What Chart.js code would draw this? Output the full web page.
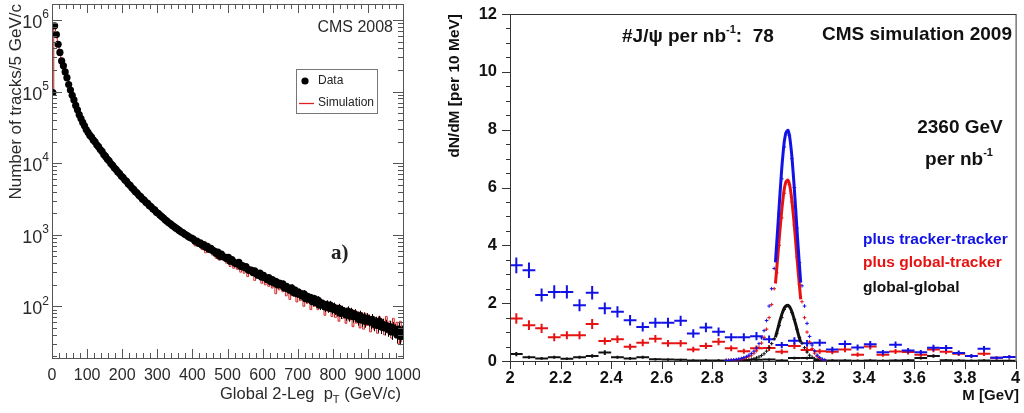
<!DOCTYPE html>
<html>
<head>
<meta charset="utf-8">
<script src="https://cdn.jsdelivr.net/npm/chart.js@4.4.0/dist/chart.umd.min.js"></script>
<style>
  body { margin: 0; background: #fff; width: 1024px; height: 413px; overflow: hidden; position: relative; }
  #leftChart { position: absolute; left: 0; top: 0; }
  #rightChart { position: absolute; left: 420px; top: 0; }
</style>
</head>
<body>
<canvas id="leftChart" width="420" height="413"></canvas>
<canvas id="rightChart" width="604" height="413"></canvas>
<script>
// ---------- left panel: global 2-leg pT, tracks per 5 GeV/c ----------
var ptBinWidth = 5;
var dataCounts = [
  97000, 830000, 625000, 458000, 352000, 268000, 229000, 188000, 156000, 125000,
  105000, 88500, 76500, 64000, 55500, 47600, 42000, 37000, 33300, 29400,
  27000, 24600, 23200, 21100, 19900, 18000, 17000, 15500, 14600, 13200,
  12400, 11400, 10800, 9850, 9350, 8600, 8150, 7550, 7150, 6600,
  6300, 5800, 5550, 5100, 4880, 4520, 4300, 4000, 3820, 3560,
  3400, 3170, 3050, 2840, 2740, 2550, 2460, 2290, 2220, 2060,
  1990, 1880, 1800, 1710, 1620, 1550, 1470, 1420, 1350, 1300,
  1245, 1200, 1150, 1100, 1075, 1025, 990, 955, 915, 895,
  870, 812, 815, 760, 768, 712, 728, 668, 688, 626,
  648, 604, 590, 548, 572, 500, 538, 492, 486, 462,
  482, 428, 448, 418, 398, 392, 412, 360, 372, 348,
  358, 330, 318, 322, 296, 312, 282, 270, 292, 256,
  272, 250, 238, 252, 222, 236, 212, 224, 200, 212,
  198, 206, 180, 190, 176, 168, 182, 156, 168, 150,
  158, 146, 140, 150, 128, 138, 126, 132, 116, 128,
  112, 122, 104, 112, 108, 98, 106, 96, 104, 92,
  98, 90, 86, 94, 80, 88, 82, 76, 86, 74,
  82, 72, 78, 74, 66, 74, 64, 70, 62, 68,
  64, 60, 66, 56, 60, 54, 62, 52, 56, 50,
  54, 48, 52, 44, 50, 46, 40, 48, 38, 44
];
var simCounts = [
  98000, 760000, 600000, 470000, 345000, 275000, 222000, 192000, 152000, 128000,
  103000, 90000, 75000, 65500, 54000, 48500, 41000, 37500, 32800, 29800,
  26500, 25000, 22800, 21400, 19500, 18300, 16700, 15800, 14300, 13500,
  12100, 11600, 10500, 10000, 9100, 8750, 7900, 7700, 6950, 6700,
  6100, 5900, 5350, 5200, 4700, 4600, 4150, 4050, 3700, 3600,
  3250, 2900, 2950, 2600, 2700, 2350, 2400, 2150, 2200, 1900,
  1950, 1700, 1830, 1560, 1650, 1480, 1520, 1300, 1380, 1220,
  1260, 1120, 1180, 1040, 1090, 980, 1010, 880, 930, 860,
  900, 700, 840, 690, 800, 620, 760, 560, 720, 580,
  690, 520, 640, 470, 600, 440, 560, 500, 520, 400,
  500, 360, 470, 340, 440, 330, 430, 300, 400, 290,
  380, 260, 360, 300, 330, 230, 320, 260, 300, 210,
  290, 200, 270, 190, 260, 180, 250, 150, 235, 170,
  225, 160, 210, 140, 205, 125, 190, 140, 180, 115,
  170, 120, 165, 100, 160, 110, 150, 90, 140, 100,
  135, 90, 130, 95, 120, 75, 118, 85, 112, 72,
  108, 70, 104, 62, 100, 68, 96, 58, 94, 64,
  92, 52, 88, 58, 84, 50, 82, 48, 80, 54,
  76, 44, 72, 48, 70, 42, 72, 46, 66, 40,
  72, 42, 62, 36, 68, 40, 60, 30, 62, 32
];
var ptCenters = dataCounts.map(function (_, i) { return ptBinWidth * (i + 0.5); });
var logDecades = [100, 1000, 10000, 100000, 1000000];

// ---------- right panel: dimuon mass, 2360 GeV ----------
var massBins = [2.025, 2.075, 2.125, 2.175, 2.225, 2.275, 2.325, 2.375, 2.425, 2.475,
  2.525, 2.575, 2.625, 2.675, 2.725, 2.775, 2.825, 2.875, 2.925, 2.975,
  3.025, 3.075, 3.125, 3.175, 3.225, 3.275, 3.325, 3.375, 3.425, 3.475,
  3.525, 3.575, 3.625, 3.675, 3.725, 3.775, 3.825, 3.875, 3.925, 3.975];
var trackerTracker = [3.31, 3.14, 2.28, 2.39, 2.39, 1.93, 2.36, 1.82, 1.70, 1.41,
  1.18, 1.32, 1.32, 1.39, 0.95, 1.16, 1.01, 0.82, 0.82, 0.86,
  0.75, 0.55, 0.70, 0.61, 0.63, 0.40, 0.59, 0.47, 0.58, 0.30,
  0.56, 0.36, 0.30, 0.46, 0.45, 0.28, 0.17, 0.42, 0.11, 0.14];
var globalTracker = [1.47, 1.24, 1.13, 0.82, 0.89, 0.89, 1.28, 0.69, 0.75, 0.49,
  0.63, 0.77, 0.61, 0.61, 0.40, 0.52, 0.67, 0.44, 0.34, 0.44,
  0.45, 0.32, 0.52, 0.38, 0.34, 0.32, 0.40, 0.22, 0.50, 0.22,
  0.33, 0.31, 0.22, 0.40, 0.32, 0.25, 0.17, 0.25, 0.11, 0.14];
var globalGlobal = [0.24, 0.13, 0.09, 0.13, 0.08, 0.13, 0.17, 0.29, 0.13, 0.09,
  0.13, 0.06, 0.05, 0.04, 0.02, 0.02, 0.02, 0.01, 0.03, 0.04,
  0.05, 0.02, 0.10, 0.10, 0.03, 0.02, 0.02, 0.01, 0.02, 0.01,
  0.02, 0.03, 0.10, 0.17, 0.03, 0.02, 0.01, 0.02, 0.01, 0.01];

// 10 MeV bins around the J/psi peak
var massFine = [2.855, 2.865, 2.875, 2.885, 2.895, 2.905, 2.915, 2.925, 2.935, 2.945,
  2.955, 2.965, 2.975, 2.985, 2.995, 3.005, 3.015, 3.025, 3.035, 3.045,
  3.055, 3.065, 3.075, 3.085, 3.095, 3.105, 3.115, 3.125, 3.135, 3.145,
  3.155, 3.165, 3.175, 3.185, 3.195, 3.205, 3.215, 3.225, 3.235, 3.245];
var trackerTrackerFine = [0.02, 0.02, 0.03, 0.04, 0.05, 0.07, 0.09, 0.12, 0.15, 0.2,
  0.26, 0.34, 0.45, 0.6, 0.8, 1.05, 1.4, 1.9, 2.5, 3.2,
  3.9, 5.1, 6.3, 7.4, 7.9, 7.8, 7.0, 6.0, 4.6, 3.4,
  2.6, 1.9, 1.3, 0.85, 0.55, 0.35, 0.2, 0.12, 0.06, 0.03];
var globalTrackerFine = [0.02, 0.02, 0.02, 0.03, 0.04, 0.05, 0.07, 0.09, 0.12, 0.16,
  0.2, 0.27, 0.35, 0.47, 0.62, 0.82, 1.1, 1.5, 1.95, 2.5,
  3.05, 4.0, 4.95, 5.8, 6.2, 6.1, 5.5, 4.7, 3.6, 2.65,
  2.05, 1.5, 1.0, 0.66, 0.43, 0.27, 0.16, 0.09, 0.05, 0.02];
var globalGlobalFine = [0.01, 0.01, 0.01, 0.01, 0.01, 0.02, 0.02, 0.03, 0.04, 0.05,
  0.06, 0.08, 0.11, 0.14, 0.19, 0.25, 0.34, 0.46, 0.6, 0.77,
  0.95, 1.22, 1.5, 1.78, 1.9, 1.88, 1.68, 1.44, 1.1, 0.82,
  0.62, 0.46, 0.31, 0.2, 0.13, 0.08, 0.05, 0.03, 0.02, 0.01];

// fitted peak shapes
var fitMass = [3.05, 3.06, 3.07, 3.08, 3.09, 3.10, 3.11, 3.12, 3.13, 3.14, 3.15];
var trackerTrackerFit = [3.41, 4.72, 6.04, 7.16, 7.85, 7.97, 7.5, 6.52, 5.26, 3.92, 2.71];
var globalTrackerFit = [2.68, 3.7, 4.74, 5.62, 6.16, 6.25, 5.89, 5.12, 4.13, 3.08, 2.13];
var globalGlobalFit = [0.82, 1.14, 1.46, 1.73, 1.89, 1.92, 1.81, 1.57, 1.27, 0.94, 0.65];

var BLUE = '#1212e6', RED = '#e61212', BLACK = '#111';
var SANS = 'Liberation Sans, Arial, sans-serif';

function pts(xs, ys) {
  return xs.map(function (x, i) { return { x: x, y: ys[i] }; });
}

// keep the plot frame where it is: no extra room for label overflow
function fixBox(size) {
  return function (s) {
    if (s.isHorizontal()) s.height = size; else s.width = size;
    s.paddingLeft = 0; s.paddingRight = 0; s.paddingTop = 0; s.paddingBottom = 0;
  };
}

// draw a run of text pieces [text, font, dy] as one line
function drawRich(ctx, parts, x, y, align) {
  var w = 0;
  parts.forEach(function (p) { ctx.font = p[1]; w += ctx.measureText(p[0]).width; });
  var cx = align === 'right' ? x - w : align === 'center' ? x - w / 2 : x;
  ctx.textAlign = 'left';
  ctx.textBaseline = 'middle';
  parts.forEach(function (p) {
    ctx.font = p[1];
    ctx.fillText(p[0], cx, y + (p[2] || 0));
    cx += ctx.measureText(p[0]).width;
  });
}

var leftDecor = {
  id: 'leftDecor',
  afterDatasetsDraw: function (chart) {
    var ctx = chart.ctx, xs = chart.scales.x, ys = chart.scales.y;
    ctx.save();
    ctx.strokeStyle = '#000';
    ctx.lineWidth = 1;
    ctx.beginPath();
    dataCounts.forEach(function (v, i) {
      var e = 1.5 * Math.sqrt(v);
      var px = Math.round(xs.getPixelForValue(ptCenters[i])) + 0.5;
      ctx.moveTo(px, ys.getPixelForValue(v + e));
      ctx.lineTo(px, ys.getPixelForValue(Math.max(v - e, 1)));
    });
    ctx.stroke();
    ctx.restore();
  },
  afterDraw: function (chart) {
    var ctx = chart.ctx, a = chart.chartArea, xs = chart.scales.x, ys = chart.scales.y;
    ctx.save();
    ctx.strokeStyle = '#555';
    ctx.lineWidth = 1;
    ctx.strokeRect(a.left + 0.5, a.top + 0.5, a.right - a.left, a.bottom - a.top);
    ctx.beginPath();
    for (var i = 0; i <= 50; i++) {
      var px = Math.round(xs.getPixelForValue(i * 20)) + 0.5;
      var len = i % 5 === 0 ? 9 : 5;
      ctx.moveTo(px, a.bottom); ctx.lineTo(px, a.bottom - len);
      ctx.moveTo(px, a.top); ctx.lineTo(px, a.top + len);
    }
    [10, 100, 1000, 10000, 100000, 1000000].forEach(function (d) {
      for (var k = 1; k <= 9; k++) {
        var v = k * d;
        if (v < ys.min || v > ys.max) continue;
        var py = Math.round(ys.getPixelForValue(v)) + 0.5;
        var l = k === 1 ? 10 : 5;
        ctx.moveTo(a.left, py); ctx.lineTo(a.left + l, py);
        ctx.moveTo(a.right, py); ctx.lineTo(a.right - l, py);
      }
    });
    ctx.stroke();

    ctx.fillStyle = '#2a2a2a';
    logDecades.forEach(function (d) {
      var py = ys.getPixelForValue(d);
      var exp = String(Math.round(Math.log10(d)));
      drawRich(ctx, [['10', '18px ' + SANS, 3], [exp, '12px ' + SANS, -5]], a.left - 3, py, 'right');
    });

    // axis titles
    ctx.save();
    ctx.translate(16, a.top);
    ctx.rotate(-Math.PI / 2);
    ctx.font = '17px ' + SANS;
    ctx.textAlign = 'right';
    ctx.textBaseline = 'middle';
    ctx.fillText('Number of tracks/5 GeV/c', 0, 0);
    ctx.restore();
    drawRich(ctx, [['Global 2-Leg  p', '16.5px ' + SANS, 0], ['T', '11px ' + SANS, 6],
      [' (GeV/c)', '16.5px ' + SANS, 0]], 401, 394, 'right');

    ctx.font = '16px ' + SANS;
    ctx.textAlign = 'right';
    ctx.textBaseline = 'middle';
    ctx.fillText('CMS 2008', 393, 28);

    // legend
    ctx.strokeStyle = '#777';
    ctx.strokeRect(296.5, 69.5, 81, 44);
    ctx.fillStyle = '#000';
    ctx.beginPath();
    ctx.arc(305, 81, 3.6, 0, Math.PI * 2);
    ctx.fill();
    ctx.strokeStyle = '#e02020';
    ctx.lineWidth = 1.3;
    ctx.beginPath();
    ctx.moveTo(299, 103.5); ctx.lineTo(314, 103.5);
    ctx.stroke();
    ctx.fillStyle = '#222';
    ctx.font = '12px ' + SANS;
    ctx.textAlign = 'left';
    ctx.fillText('Data', 318, 81);
    ctx.fillText('Simulation', 318, 103);

    ctx.font = 'bold 21px Liberation Serif, DejaVu Serif, serif';
    ctx.fillText('a)', 331, 254);
    ctx.restore();
  }
};

new Chart('leftChart', {
  type: 'line',
  data: {
    datasets: [{
      label: 'Data',
      data: pts(ptCenters, dataCounts),
      showLine: false,
      pointStyle: 'circle',
      pointRadius: 3.6,
      pointBackgroundColor: '#000',
      pointBorderWidth: 0,
      order: 0
    }, {
      label: 'Simulation',
      data: pts(ptCenters, simCounts),
      stepped: 'middle',
      borderColor: '#d42020',
      borderWidth: 1,
      pointRadius: 0,
      order: 1
    }]
  },
  options: {
    responsive: false,
    animation: false,
    devicePixelRatio: 1,
    layout: { padding: { top: 3, right: 17, left: 0, bottom: 0 } },
    plugins: { legend: { display: false }, tooltip: { enabled: false } },
    scales: {
      x: {
        type: 'linear', min: 0, max: 1000,
        grid: { display: false, drawTicks: false }, border: { display: false },
        ticks: { stepSize: 100, autoSkip: false, maxRotation: 0, padding: 8, color: '#2a2a2a',
          font: { family: SANS, size: 16 },
          callback: function (v) { return String(v); } },
        afterFit: fixBox(55)
      },
      y: {
        type: 'logarithmic', min: 19, max: 1.67e6,
        grid: { display: false, drawTicks: false }, border: { display: false },
        ticks: { display: false },
        afterFit: fixBox(52)
      }
    }
  },
  plugins: [leftDecor]
});

// ---------- right chart ----------
var rightDecor = {
  id: 'rightDecor',
  afterDatasetDraw: function (chart, args) {
    var ds = chart.data.datasets[args.index];
    if (!ds.errorBars) return;
    var ctx = chart.ctx, xs = chart.scales.x, ys = chart.scales.y;
    ctx.save();
    ctx.strokeStyle = ds.pointBorderColor;
    ctx.lineWidth = 2;
    ctx.beginPath();
    ds.data.forEach(function (p) {
      var e = Math.max(0.15 * Math.sqrt(p.y), 0.04);
      var px = xs.getPixelForValue(p.x);
      ctx.moveTo(px, ys.getPixelForValue(p.y + e));
      ctx.lineTo(px, ys.getPixelForValue(Math.max(p.y - e, 0)));
    });
    ctx.stroke();
    ctx.restore();
  },
  afterDraw: function (chart) {
    var ctx = chart.ctx, a = chart.chartArea, xs = chart.scales.x, ys = chart.scales.y;
    ctx.save();
    ctx.strokeStyle = '#333';
    ctx.lineWidth = 1;
    ctx.strokeRect(a.left + 0.5, a.top + 0.5, a.right - a.left, a.bottom - a.top);
    ctx.beginPath();
    for (var i = 0; i <= 24; i++) {
      var py = Math.round(ys.getPixelForValue(i * 0.5)) + 0.5;
      var l = i % 4 === 0 ? 8 : 4;
      ctx.moveTo(a.left, py); ctx.lineTo(a.left - l, py);
    }
    for (var j = 0; j <= 40; j++) {
      var px = Math.round(xs.getPixelForValue(2 + j * 0.05)) + 0.5;
      var lx = j % 4 === 0 ? 8 : 4;
      ctx.moveTo(px, a.bottom); ctx.lineTo(px, a.bottom + lx);
    }
    ctx.stroke();

    var B = 'bold ';
    ctx.fillStyle = '#111';
    ctx.save();
    ctx.translate(35, a.top);
    ctx.rotate(-Math.PI / 2);
    ctx.font = B + '15.5px ' + SANS;
    ctx.textAlign = 'right';
    ctx.textBaseline = 'middle';
    ctx.fillText('dN/dM [per 10 MeV]', 0, 0);
    ctx.restore();

    drawRich(ctx, [['M [GeV]', B + '15px ' + SANS, 0]], 599, 396, 'right');
    drawRich(ctx, [['#J/\u03C8 per nb', B + '19px ' + SANS, 0], ['-1', B + '11px ' + SANS, -7],
      [':  78', B + '19px ' + SANS, 0]], 202, 37, 'left');
    drawRich(ctx, [['CMS simulation 2009', B + '19px ' + SANS, 0]], 592, 35, 'right');
    drawRich(ctx, [['2360 GeV', B + '19px ' + SANS, 0]], 540, 128, 'center');
    drawRich(ctx, [['per nb', B + '19px ' + SANS, 0], ['-1', B + '11px ' + SANS, -7]], 539, 160, 'center');

    ctx.fillStyle = BLUE;
    drawRich(ctx, [['plus tracker-tracker', B + '15.5px ' + SANS, 0]], 443, 240, 'left');
    ctx.fillStyle = RED;
    drawRich(ctx, [['plus global-tracker', B + '15.5px ' + SANS, 0]], 443, 263, 'left');
    ctx.fillStyle = BLACK;
    drawRich(ctx, [['global-global', B + '15.5px ' + SANS, 0]], 443, 288, 'left');
    ctx.restore();
  }
};

function coarse(label, ys, color) {
  return { label: label, data: pts(massBins, ys), showLine: false, pointStyle: 'line',
    pointRadius: 6.4, pointBorderWidth: 2, pointBorderColor: color, pointBackgroundColor: color,
    errorBars: true, order: 2 };
}
function fine(label, ys, color) {
  return { label: label, data: pts(massFine, ys), showLine: false, pointStyle: 'cross',
    pointRadius: 1.8, pointBorderWidth: 1, pointBorderColor: color, order: 1 };
}
function fit(label, ys, color) {
  return { label: label, data: pts(fitMass, ys), borderColor: color, borderWidth: 3,
    pointRadius: 0, tension: 0.4, order: 0 };
}

new Chart('rightChart', {
  type: 'line',
  data: {
    datasets: [
      coarse('plus tracker-tracker', trackerTracker, BLUE),
      coarse('plus global-tracker', globalTracker, RED),
      coarse('global-global', globalGlobal, BLACK),
      fine('tracker-tracker 10 MeV', trackerTrackerFine, BLUE),
      fine('global-tracker 10 MeV', globalTrackerFine, RED),
      fine('global-global 10 MeV', globalGlobalFine, BLACK),
      fit('tracker-tracker fit', trackerTrackerFit, BLUE),
      fit('global-tracker fit', globalTrackerFit, RED),
      fit('global-global fit', globalGlobalFit, BLACK)
    ]
  },
  options: {
    responsive: false,
    animation: false,
    devicePixelRatio: 1,
    layout: { padding: { top: 14, right: 5, left: 0, bottom: 0 } },
    plugins: { legend: { display: false }, tooltip: { enabled: false } },
    scales: {
      x: {
        type: 'linear', min: 2, max: 4,
        grid: { display: false, drawTicks: false }, border: { display: false },
        ticks: { stepSize: 0.2, autoSkip: false, maxRotation: 0, padding: 8, color: '#111',
          font: { family: SANS, size: 16.5, weight: 'bold' },
          callback: function (v) { return Math.round(v * 10) / 10; } },
        afterFit: fixBox(52)
      },
      y: {
        type: 'linear', min: 0, max: 12,
        grid: { display: false, drawTicks: false }, border: { display: false },
        ticks: { stepSize: 2, padding: 13, color: '#111',
          font: { family: SANS, size: 16.5, weight: 'bold' } },
        afterFit: fixBox(90)
      }
    }
  },
  plugins: [rightDecor]
});
</script>
</body>
</html>
